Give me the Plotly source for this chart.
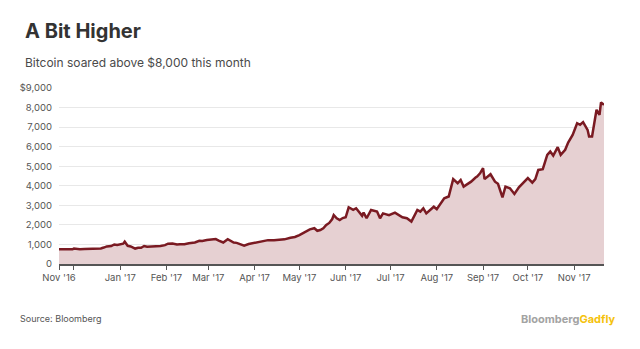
import plotly.graph_objects as go

dates = [
    "2016-11-21", "2016-11-24", "2016-11-27", "2016-11-30", "2016-12-01", "2016-12-03",
    "2016-12-05", "2016-12-08", "2016-12-11", "2016-12-14", "2016-12-17", "2016-12-19",
    "2016-12-21", "2016-12-23", "2016-12-26", "2016-12-28", "2016-12-30", "2017-01-01",
    "2017-01-03", "2017-01-04", "2017-01-06", "2017-01-08", "2017-01-11", "2017-01-13",
    "2017-01-15", "2017-01-17", "2017-01-19", "2017-01-22", "2017-01-25", "2017-01-28",
    "2017-01-31", "2017-02-02", "2017-02-05", "2017-02-08", "2017-02-10", "2017-02-13",
    "2017-02-16", "2017-02-20", "2017-02-23", "2017-02-25", "2017-02-28", "2017-03-03",
    "2017-03-06", "2017-03-08", "2017-03-11", "2017-03-14", "2017-03-16", "2017-03-18",
    "2017-03-20", "2017-03-22", "2017-03-25", "2017-03-28", "2017-03-31", "2017-04-03",
    "2017-04-06", "2017-04-10", "2017-04-14", "2017-04-18", "2017-04-21", "2017-04-25",
    "2017-04-28", "2017-05-01", "2017-05-04", "2017-05-06", "2017-05-08", "2017-05-11",
    "2017-05-13", "2017-05-15", "2017-05-17", "2017-05-19", "2017-05-21", "2017-05-23",
    "2017-05-24", "2017-05-26", "2017-05-28", "2017-05-30", "2017-06-01", "2017-06-03",
    "2017-06-06", "2017-06-08", "2017-06-12", "2017-06-13", "2017-06-15", "2017-06-18",
    "2017-06-22", "2017-06-24", "2017-06-26", "2017-06-30", "2017-07-04", "2017-07-09",
    "2017-07-12", "2017-07-15", "2017-07-16", "2017-07-19", "2017-07-21", "2017-07-23",
    "2017-07-25", "2017-07-30", "2017-08-01", "2017-08-06", "2017-08-09", "2017-08-12",
    "2017-08-15", "2017-08-17", "2017-08-19", "2017-08-24", "2017-08-27", "2017-08-28",
    "2017-08-30", "2017-09-01", "2017-09-02", "2017-09-06", "2017-09-09", "2017-09-11",
    "2017-09-14", "2017-09-16", "2017-09-19", "2017-09-22", "2017-09-25", "2017-09-28",
    "2017-10-01", "2017-10-04", "2017-10-06", "2017-10-08", "2017-10-11", "2017-10-14",
    "2017-10-16", "2017-10-18", "2017-10-21", "2017-10-23", "2017-10-26", "2017-10-28",
    "2017-10-31", "2017-11-03", "2017-11-05", "2017-11-07", "2017-11-10", "2017-11-11",
    "2017-11-13", "2017-11-16", "2017-11-18", "2017-11-19", "2017-11-21",
]
prices = [
    750, 745, 740, 750, 790, 765,
    760, 770, 775, 780, 790, 795,
    840, 900, 920, 1000, 970, 1000,
    1040, 1140, 930, 900, 790, 830,
    830, 920, 880, 900, 900, 925,
    965, 1040, 1050, 1000, 1010, 1010,
    1060, 1100, 1190, 1180, 1230, 1270,
    1275, 1200, 1100, 1270, 1180, 1100,
    1080, 1030, 940, 1020, 1060, 1100,
    1160, 1220, 1220, 1230, 1260, 1340,
    1380, 1480, 1600, 1650, 1770, 1830,
    1700, 1740, 1830, 2000, 2100, 2300,
    2500, 2340, 2250, 2350, 2390, 2900,
    2765, 2850, 2460, 2630, 2340, 2765,
    2680, 2340, 2590, 2500, 2630, 2390,
    2340, 2170, 2340, 2765, 2680, 2850,
    2590, 2930, 2800, 3360, 3450, 4340,
    4130, 4300, 3960, 4210, 4420, 4470,
    4640, 4900, 4340, 4590, 4210, 4100,
    3410, 3960, 3870, 3580, 3920, 4160,
    4390, 4160, 4340, 4810, 4850, 5580,
    5750, 5545, 5975, 5580, 5840, 6210,
    6600, 7200, 7120, 7255, 6860, 6520,
    6520, 7885, 7630, 8260, 8140,
]

x_tickvals = ["2016-11-21", "2016-12-01", "2017-01-01", "2017-02-01", "2017-03-01",
              "2017-04-01", "2017-05-01", "2017-06-01", "2017-07-01", "2017-08-01",
              "2017-09-01", "2017-10-01", "2017-11-01"]
x_ticktext = ["Nov '16", "", "Jan '17", "Feb '17", "Mar '17", "Apr '17", "May '17",
              "Jun '17", "Jul '17", "Aug '17", "Sep '17", "Oct '17", "Nov '17"]
y_tickvals = [0, 1000, 2000, 3000, 4000, 5000, 6000, 7000, 8000, 9000]
y_ticktext = ["0", "1,000", "2,000", "3,000", "4,000", "5,000", "6,000", "7,000",
              "8,000", "$9,000"]

FONT = "Inter"
L, R, T, B = 59, 36, 88, 85
W, H = 640, 349
pw, ph = W - L - R, H - T - B

def px(x):
    return (x - L) / pw

def py(y):
    return (H - B - y) / ph

fig = go.Figure()
fig.add_trace(go.Scatter(
    x=dates, y=prices, mode="lines",
    line=dict(color="#7a1a22", width=2.5),
    fill="tozeroy", fillcolor="#e6d0d2",
    hoverinfo="skip",
))

fig.update_layout(
    width=W, height=H,
    margin=dict(l=L, r=R, t=T, b=B),
    paper_bgcolor="white", plot_bgcolor="white",
    showlegend=False,
    font=dict(family=FONT, color="#555555", size=10),
    xaxis=dict(
        type="date", range=[dates[0], dates[-1]],
        tickvals=x_tickvals, ticktext=x_ticktext,
        ticks="outside", ticklen=4, tickwidth=1, tickcolor="#555555",
        showline=True, linecolor="#555555", linewidth=1.5,
        showgrid=False, zeroline=False,
        tickfont=dict(size=9.5, color="#555555"),
    ),
    yaxis=dict(
        range=[0, 9000], tickvals=y_tickvals, ticktext=y_ticktext,
        showgrid=True, gridcolor="#e8e8e8", gridwidth=1,
        zeroline=False, showline=False, ticks="",
        ticklabelstandoff=6,
        tickfont=dict(size=9.5, color="#555555"),
    ),
    annotations=[
        dict(text="<b>A Bit Higher</b>", x=px(23), y=py(31), xref="paper", yref="paper",
             xanchor="left", yanchor="middle", showarrow=False,
             font=dict(size=20, color="#333333", family=FONT)),
        dict(text="Bitcoin soared above $8,000 this month", x=px(23), y=py(62),
             xref="paper", yref="paper", xanchor="left", yanchor="middle",
             showarrow=False, font=dict(size=12, color="#4a4a4a", family=FONT)),
        dict(text="Source: Bloomberg", x=px(18), y=py(318), xref="paper", yref="paper",
             xanchor="left", yanchor="middle", showarrow=False,
             font=dict(size=9, color="#555555", family=FONT)),
        dict(text="<b><span style='color:#a3a3a3'>Bloomberg</span><span style='color:#f5c20c'>Gadfly</span></b>",
             x=px(617), y=py(319), xref="paper", yref="paper",
             xanchor="right", yanchor="middle", showarrow=False,
             font=dict(size=11, family=FONT)),
    ],
)

fig.write_html("out.html")
